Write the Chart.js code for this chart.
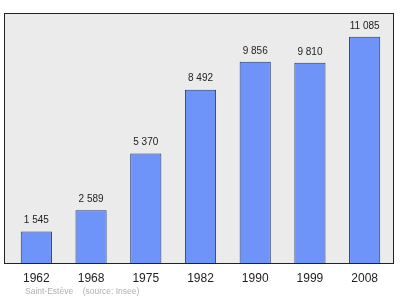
<!DOCTYPE html>
<html>
<head>
<meta charset="utf-8">
<script src="https://cdn.jsdelivr.net/npm/chart.js@4"></script>
<style>
  html, body { margin: 0; padding: 0; background: #fff; }
  #wrap { width: 400px; height: 299px; }
</style>
</head>
<body>
<div id="wrap"><canvas id="chart" width="400" height="299"></canvas></div>
<script>
  let annees = ['1962', '1968', '1975', '1982', '1990', '1999', '2008'];
  let population = [1545, 2589, 5370, 8492, 9856, 9810, 11085];
  let source = 'Saint-Estève    (source: Insee)';

  function formatNombre(n) {
      return String(n).replace(/\B(?=(\d{3})+(?!\d))/g, ' ');
  }

  // fond gris + cadre autour de la zone du graphique
  let cadre = {
      id: 'cadre',
      beforeDraw(chart) {
          let c = chart.ctx;
          let a = chart.chartArea;
          c.save();
          c.fillStyle = '#ebebeb';
          c.fillRect(a.left - 5, a.top, a.right - a.left + 7, a.bottom - a.top);
          c.strokeStyle = '#222';
          c.lineWidth = 1;
          c.strokeRect(a.left - 4.5, a.top + 0.5, a.right - a.left + 6, a.bottom - a.top);
          c.restore();
      },
      afterDraw(chart) {
          let c = chart.ctx;
          c.save();
          // valeurs au-dessus des barres
          c.font = '10px "Liberation Sans", Arial, sans-serif';
          c.fillStyle = '#222';
          c.textAlign = 'center';
          c.textBaseline = 'middle';
          chart.getDatasetMeta(0).data.forEach((bar, i) => {
              c.fillText(formatNombre(population[i]), bar.x, bar.y - 11);
          });
          // source
          c.font = '8.5px "Liberation Sans", Arial, sans-serif';
          c.fillStyle = '#b0b0b0';
          c.textAlign = 'left';
          c.fillText(source, 25, 292);
          c.restore();
      }
  };

  let datos = {
      labels: annees,
      datasets: [{
          label: 'Population',
          data: population,
          backgroundColor: '#6e94fa',
          borderColor: '#27396e',
          borderWidth: 1,
          categoryPercentage: 1,
          barPercentage: 0.57,
      }]
  };

  let opciones = {
      responsive: false,
      animation: false,
      layout: {
          padding: { left: 9, right: 8, top: 13, bottom: 0 }
      },
      scales: {
          x: {
              grid: { display: false, drawTicks: false },
              border: { display: false },
              ticks: {
                  color: '#222',
                  padding: 8,
                  font: { size: 12, family: '"Liberation Sans", Arial, sans-serif' }
              },
              afterFit(s) { s.height = 36; }
          },
          y: {
              display: false,
              min: 0,
              max: 12250,
          }
      },
      plugins: {
          legend: { display: false },
          title: { display: false },
          tooltip: { enabled: false },
      },
  };

  let ctx = document.getElementById('chart').getContext('2d');
  let miGrafica = new Chart(ctx, {
      type: 'bar',
      data: datos,
      options: opciones,
      plugins: [cadre],
  });
</script>
</body>
</html>
